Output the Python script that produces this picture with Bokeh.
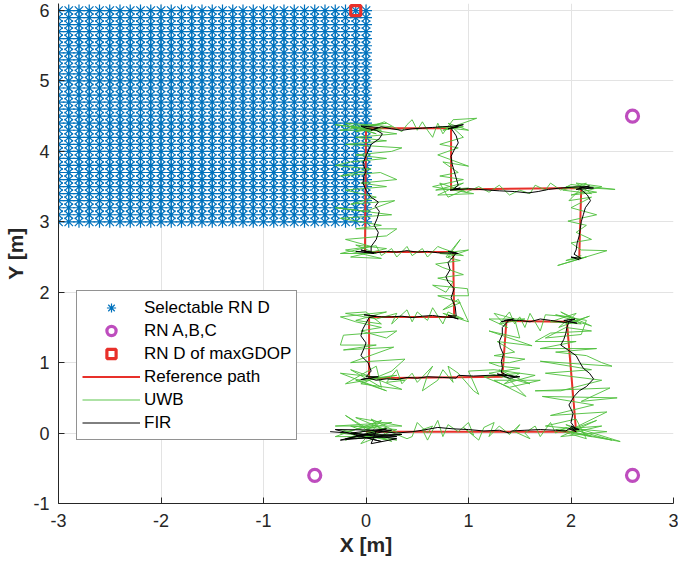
from bokeh.plotting import figure
from bokeh.models import Range1d, FixedTicker
from bokeh.embed import file_html
from bokeh.resources import INLINE

# ---------------- data ----------------
grid_cols = [-3.0, -2.9, -2.8, -2.7, -2.6, -2.5, -2.4, -2.3, -2.2, -2.1, -2.0,
             -1.9, -1.8, -1.7, -1.6, -1.5, -1.4, -1.3, -1.2, -1.1, -1.0,
             -0.9, -0.8, -0.7, -0.6, -0.5, -0.4, -0.3, -0.2, -0.1, 0.0]
grid_rows = [3.0, 3.1, 3.2, 3.3, 3.4, 3.5, 3.6, 3.7, 3.8, 3.9, 4.0,
             4.1, 4.2, 4.3, 4.4, 4.5, 4.6, 4.7, 4.8, 4.9, 5.0,
             5.1, 5.2, 5.3, 5.4, 5.5, 5.6, 5.7, 5.8, 5.9, 6.0]

anchor_x = [-0.5, 2.6, 2.6]
anchor_y = [-0.6, -0.6, 4.5]

maxgdop_x = [-0.1]
maxgdop_y = [6.0]

ref_x = [0.0, 2.05, 1.96, 1.37, 1.33, 0.03, 0.03, 0.86, 0.85, -0.01, 0.0, 0.83, 0.83, 2.10, 2.08]
ref_y = [0.02, 0.02, 1.58, 1.59, 0.80, 0.78, 1.65, 1.65, 2.57, 2.57, 4.33, 4.33, 3.46, 3.48, 2.47]

uwb_xy = [
    (-0.25, 0.05), (0.2, -0.1), (-0.2, 0.25), (0.1, -0.05), (-0.3, -0.05), (0.15, 0.18),
    (-0.05, -0.15), (0.3, 0.05), (-0.15, 0.1), (0.25, -0.12), (0.05, 0.2), (0.35, -0.02),
    (-0.1, -0.08), (0.2, 0.08), (-0.2, -0.1), (0.1, 0.12), (-0.25, 0.0), (0.3, -0.1),
    (0.0, 0.05), (0.25, 0.15), (-0.3, 0.1), (0.35, 0.1), (-0.1, 0.22), (0.4, -0.08),
    (0.45, -0.05), (0.5, 0.15), (0.6, 0.0), (0.65, 0.1), (0.55, 0.05), (0.6, -0.1),
    (0.7, 0.18), (0.75, -0.05), (0.8, 0.12), (0.9, 0.02), (1.0, 0.15), (1.05, -0.03),
    (0.95, 0.08), (1.1, -0.1), (1.15, 0.08), (1.25, 0.15), (1.2, -0.05), (1.3, 0.1),
    (1.4, -0.02), (1.5, 0.12), (1.45, 0.02), (1.6, -0.08), (1.55, 0.0), (1.65, 0.1),
    (1.7, -0.05), (1.8, 0.15), (1.85, 0.0), (1.95, 0.08),
    (2.4, -0.1), (1.9, 0.05), (2.2, -0.05), (1.95, 0.12), (2.48, -0.12), (2.0, 0.0),
    (2.3, 0.1), (1.85, 0.05), (2.15, -0.08), (2.05, 0.2), (1.75, 0.1), (2.35, 0.02),
    (1.9, -0.05), (2.25, 0.18), (2.0, 0.05),
    (2.35, 0.3), (1.8, 0.25), (2.22, 0.4), (1.72, 0.52), (2.45, 0.5), (2.1, 0.45),
    (2.38, 0.64), (1.65, 0.6), (1.9, 0.6), (2.3, 0.75), (1.75, 0.85), (2.2, 0.9),
    (1.7, 1.02), (2.4, 0.95), (2.3, 1.0), (2.15, 1.1), (1.85, 1.15), (2.25, 1.2),
    (1.7, 1.2), (2.05, 1.3), (1.65, 1.3), (1.8, 1.42), (2.2, 1.45), (1.95, 1.5),
    (1.75, 1.35), (2.1, 1.4),
    (2.15, 1.6), (1.85, 1.68), (2.2, 1.52), (1.9, 1.72), (2.1, 1.55), (1.8, 1.58),
    (2.05, 1.7), (1.95, 1.55), (2.18, 1.66), (1.88, 1.5), (2.0, 1.65),
    (1.75, 1.68), (1.7, 1.45), (1.6, 1.7), (1.55, 1.5), (1.5, 1.65), (1.45, 1.55),
    (1.4, 1.72), (1.3, 1.55), (1.55, 1.62), (1.2, 1.62), (1.38, 1.5), (1.25, 1.7),
    (1.45, 1.62),
    (1.5, 1.35), (1.2, 1.45), (1.62, 1.24), (1.28, 1.3), (1.45, 1.15), (1.25, 1.1),
    (1.55, 1.05), (1.4, 1.0), (1.2, 1.0), (1.3, 0.95), (1.5, 0.92),
    (1.2, 0.85), (1.6, 0.7), (1.3, 0.9), (1.56, 0.52), (1.25, 0.75), (1.7, 0.75),
    (1.4, 0.65), (1.15, 0.8), (1.5, 0.85), (1.35, 0.7), (1.65, 0.82), (1.25, 0.9),
    (1.0, 0.88), (1.1, 0.55), (1.05, 0.6), (0.9, 0.85), (0.8, 0.95), (0.85, 0.72),
    (0.75, 0.9), (0.7, 0.75), (0.55, 0.6), (0.6, 0.82), (0.65, 0.95), (0.5, 0.72),
    (0.45, 0.85), (0.35, 0.7), (0.3, 0.9), (0.2, 0.72), (0.38, 0.75),
    (-0.25, 0.85), (0.2, 0.6), (-0.1, 0.75), (0.3, 0.82), (-0.2, 0.7), (0.1, 0.95),
    (0.15, 0.65), (-0.15, 0.9), (0.05, 0.8), (0.35, 0.62), (-0.05, 0.7), (0.25, 0.88),
    (0.38, 1.05), (-0.15, 1.0), (0.27, 1.22), (-0.22, 1.18), (0.1, 1.25), (-0.25, 1.25),
    (-0.22, 1.39), (0.3, 1.45), (0.2, 1.35), (-0.05, 1.45), (0.15, 1.5), (-0.1, 1.58),
    (-0.25, 1.65), (0.2, 1.72), (-0.1, 1.6), (0.15, 1.55), (0.0, 1.72), (-0.2, 1.7),
    (0.1, 1.62),
    (0.3, 1.7), (0.25, 1.55), (0.4, 1.75), (0.45, 1.58), (0.5, 1.72), (0.6, 1.6),
    (0.65, 1.78), (0.75, 1.55), (0.8, 1.72), (0.95, 1.62), (0.75, 1.7), (1.0, 1.58),
    (0.9, 1.9), (0.75, 1.75), (0.92, 1.85), (0.7, 1.95), (1.0, 1.95), (0.99, 2.05),
    (0.65, 2.1), (0.78, 2.0), (0.85, 2.15), (0.7, 2.2), (0.95, 2.25), (0.75, 2.35),
    (0.68, 2.4), (0.92, 2.45), (0.78, 2.5), (0.92, 2.75), (0.8, 2.5), (1.0, 2.6),
    (0.72, 2.55), (0.95, 2.52), (0.75, 2.62),
    (0.7, 2.65), (0.6, 2.5), (0.55, 2.62), (0.45, 2.52), (0.4, 2.65), (0.3, 2.5),
    (0.25, 2.62), (0.15, 2.52), (0.1, 2.66),
    (-0.2, 2.6), (0.15, 2.48), (-0.15, 2.5), (0.2, 2.62), (-0.1, 2.67), (0.1, 2.55),
    (-0.25, 2.55), (0.05, 2.65),
    (-0.2, 2.75), (0.2, 2.8), (0.3, 2.9), (-0.1, 2.9), (0.15, 2.95), (-0.25, 3.05),
    (0.25, 3.1), (-0.3, 3.2), (0.0, 3.15), (0.28, 3.3), (-0.15, 3.25), (0.1, 3.35),
    (-0.2, 3.45), (0.2, 3.5), (-0.05, 3.55), (0.3, 3.6), (0.14, 3.7), (-0.25, 3.65),
    (0.05, 3.75), (-0.3, 3.8), (-0.15, 3.85), (0.2, 3.9), (-0.1, 3.95), (0.25, 4.0),
    (0.35, 4.05), (-0.2, 4.1), (0.2, 4.15), (-0.1, 4.2), (0.3, 4.25),
    (-0.3, 4.38), (0.15, 4.3), (-0.25, 4.3), (0.2, 4.4), (-0.15, 4.35), (0.1, 4.25),
    (-0.2, 4.4), (0.25, 4.35), (-0.1, 4.28), (0.18, 4.42),
    (0.35, 4.28), (0.4, 4.38), (0.45, 4.45), (0.5, 4.3), (0.55, 4.42), (0.6, 4.3),
    (0.65, 4.2), (0.7, 4.4), (0.75, 4.25), (0.85, 4.45), (1.08, 4.47), (0.75, 4.3),
    (0.95, 4.35), (0.7, 4.35), (1.0, 4.3), (0.8, 4.4),
    (0.95, 4.2), (0.72, 4.1), (0.9, 4.05), (0.7, 3.95), (1.0, 3.79), (0.75, 3.85),
    (0.9, 3.7), (0.72, 3.65), (0.95, 3.6),
    (0.65, 3.5), (1.05, 3.4), (0.7, 3.38), (0.95, 3.55), (0.68, 3.45), (1.0, 3.48),
    (0.8, 3.35), (0.72, 3.55), (0.98, 3.42),
    (1.1, 3.5), (1.2, 3.42), (1.3, 3.52), (1.4, 3.38), (1.5, 3.45), (1.6, 3.4),
    (1.65, 3.52), (1.75, 3.45), (1.8, 3.55), (1.9, 3.45), (2.0, 3.53),
    (2.43, 3.46), (1.95, 3.5), (2.25, 3.42), (2.0, 3.38), (2.3, 3.5), (2.05, 3.55),
    (2.2, 3.4), (1.92, 3.45), (2.15, 3.55),
    (1.98, 3.3), (2.2, 3.35), (2.0, 3.2), (2.25, 3.1), (1.97, 3.01), (2.15, 2.95),
    (2.05, 2.85), (2.2, 2.75), (2.0, 2.7), (2.1, 2.6), (2.35, 2.59), (1.87, 2.38),
    (2.15, 2.5), (1.95, 2.45), (2.1, 2.52),
]

fir_xy = [
    (-0.35, 0.02), (0.3, -0.05), (-0.2, -0.08), (0.25, 0.04), (-0.3, 0.05), (0.15, -0.12),
    (-0.1, -0.03), (0.35, -0.02), (-0.25, -0.1), (0.2, 0.06), (-0.15, 0.0), (0.3, -0.08),
    (0.05, -0.15), (0.1, 0.03), (0.3, 0.0),
    (0.45, 0.02), (0.55, 0.04), (0.7, 0.08), (0.85, 0.06), (1.0, 0.05), (1.15, 0.03),
    (1.3, 0.04), (1.4, 0.0), (1.42, 0.03), (1.55, 0.04), (1.7, 0.05), (1.85, 0.04),
    (1.95, 0.03), (2.0, 0.08), (2.05, 0.02), (1.98, 0.06), (2.08, 0.05), (2.0, 0.1),
    (2.05, 0.05), (2.0, 0.15), (2.02, 0.28), (1.98, 0.4), (2.03, 0.52), (2.08, 0.6),
    (2.15, 0.66), (2.22, 0.77), (2.18, 0.85), (2.12, 0.92), (2.08, 1.02), (2.05, 1.1),
    (1.97, 1.18), (1.9, 1.25), (1.93, 1.33), (1.95, 1.42), (1.96, 1.5), (1.98, 1.58),
    (2.06, 1.56), (1.93, 1.6), (2.04, 1.62), (1.95, 1.57),
    (1.8, 1.6), (1.7, 1.62), (1.6, 1.58), (1.5, 1.6), (1.42, 1.6), (1.35, 1.6),
    (1.44, 1.62), (1.32, 1.58), (1.4, 1.61),
    (1.33, 1.5), (1.33, 1.4), (1.3, 1.3), (1.31, 1.22), (1.34, 1.12), (1.32, 1.02),
    (1.33, 0.93), (1.32, 0.86), (1.38, 0.82), (1.45, 0.8), (1.28, 0.84), (1.4, 0.78),
    (1.5, 0.8), (1.35, 0.82),
    (1.2, 0.82), (1.05, 0.81), (0.9, 0.82), (0.88, 0.78), (0.75, 0.79), (0.6, 0.8),
    (0.5, 0.78), (0.4, 0.79), (0.3, 0.76), (0.2, 0.77), (0.1, 0.75), (0.03, 0.78),
    (-0.05, 0.76), (0.12, 0.8), (0.0, 0.8),
    (0.05, 0.88), (0.02, 1.0), (-0.05, 1.1), (-0.02, 1.2), (0.0, 1.28), (-0.05, 1.38),
    (-0.03, 1.48), (0.0, 1.56), (0.03, 1.64), (0.1, 1.66), (-0.02, 1.68), (0.15, 1.65),
    (0.25, 1.65), (0.35, 1.66), (0.45, 1.64), (0.55, 1.66), (0.65, 1.67), (0.75, 1.65),
    (0.85, 1.64), (0.9, 1.62), (0.8, 1.67), (0.88, 1.66),
    (0.87, 1.8), (0.83, 1.92), (0.86, 2.05), (0.8, 2.15), (0.78, 2.22), (0.82, 2.32),
    (0.8, 2.42), (0.85, 2.5), (0.88, 2.56), (0.8, 2.58), (0.9, 2.55),
    (0.7, 2.56), (0.6, 2.58), (0.5, 2.57), (0.4, 2.59), (0.3, 2.57), (0.2, 2.58),
    (0.1, 2.56), (0.0, 2.57), (-0.1, 2.58), (0.08, 2.55), (-0.05, 2.6), (0.05, 2.57),
    (0.05, 2.65), (0.1, 2.75), (0.12, 2.85), (0.08, 2.95), (0.11, 3.05), (0.13, 3.15),
    (0.09, 3.22), (0.12, 3.28), (0.05, 3.35), (0.0, 3.45), (-0.03, 3.55), (-0.02, 3.65),
    (0.0, 3.72), (-0.03, 3.82), (-0.01, 3.9), (0.02, 4.0), (0.05, 4.1), (0.13, 4.18),
    (0.16, 4.25), (0.1, 4.3), (0.0, 4.33), (-0.05, 4.36), (0.12, 4.34), (0.05, 4.3), (0.15, 4.35),
    (0.25, 4.32), (0.35, 4.3), (0.45, 4.32), (0.55, 4.33), (0.65, 4.34), (0.75, 4.35),
    (0.85, 4.36), (0.95, 4.38), (0.8, 4.32), (0.9, 4.35), (0.83, 4.33),
    (0.88, 4.22), (0.9, 4.12), (0.86, 4.02), (0.83, 3.93), (0.84, 3.82), (0.86, 3.72),
    (0.88, 3.62), (0.9, 3.52), (0.85, 3.46), (0.92, 3.48), (0.82, 3.45),
    (1.0, 3.47), (1.1, 3.46), (1.2, 3.45), (1.3, 3.44), (1.45, 3.43), (1.58, 3.41),
    (1.68, 3.43), (1.78, 3.46), (1.9, 3.48), (2.0, 3.49), (2.1, 3.5), (2.22, 3.48),
    (2.05, 3.46), (2.18, 3.51), (2.08, 3.48),
    (2.16, 3.38), (2.19, 3.3), (2.14, 3.2), (2.12, 3.1), (2.1, 3.0), (2.09, 2.9),
    (2.08, 2.8), (2.06, 2.7), (2.05, 2.6), (2.03, 2.54), (2.1, 2.48), (2.0, 2.5), (2.08, 2.46),
]

x_ticks = [-3, -2, -1, 0, 1, 2, 3]
y_ticks = [-1, 0, 1, 2, 3, 4, 5, 6]

# ---------------- derived ----------------
sel_x = [cx for cy in grid_rows for cx in grid_cols]
sel_y = [cy for cy in grid_rows for cx in grid_cols]
uwb_x = [p[0] for p in uwb_xy]
uwb_y = [p[1] for p in uwb_xy]
fir_x = [p[0] for p in fir_xy]
fir_y = [p[1] for p in fir_xy]

BLUE = "#0072BD"
MAG = "#BE4DBE"
RED = "#E8302A"
GREEN = "#4DBF3A"
AX = "#262626"
FONT = "Liberation Sans"

p = figure(width=678, height=561, output_backend="svg", toolbar_location=None,
           x_range=Range1d(-3, 3), y_range=Range1d(-1, 6.1),
           min_border_left=58, min_border_right=5, min_border_top=3, min_border_bottom=58)
p.outline_line_color = None
p.background_fill_color = "white"
p.border_fill_color = "white"

p.scatter(sel_x, sel_y, marker="asterisk", size=12, line_color=BLUE, line_width=1.2,
          legend_label="Selectable RN D")
p.scatter(anchor_x, anchor_y, marker="circle", size=12, fill_color=None,
          line_color=MAG, line_width=3.2, legend_label="RN A,B,C")
p.scatter(maxgdop_x, maxgdop_y, marker="square", size=10, fill_color=None,
          line_color=RED, line_width=3.2, legend_label="RN D of maxGDOP")
p.line(ref_x, ref_y, line_color=RED, line_width=2, legend_label="Reference path")
p.line(uwb_x, uwb_y, line_color=GREEN, line_width=1, line_alpha=0.9, legend_label="UWB")
p.line(fir_x, fir_y, line_color="black", line_width=1, legend_label="FIR")

for ax, ticks in ((p.xaxis, x_ticks), (p.yaxis, y_ticks)):
    ax.ticker = FixedTicker(ticks=ticks)
    ax.minor_tick_line_color = None
    ax.major_tick_in = 6
    ax.major_tick_out = 0
    ax.axis_line_color = AX
    ax.major_tick_line_color = AX
    ax.major_label_text_color = AX
    ax.major_label_text_font = FONT
    ax.major_label_text_font_size = "18px"
    ax.axis_label_text_font = FONT
    ax.axis_label_text_font_size = "21px"
    ax.axis_label_text_font_style = "bold"
    ax.axis_label_text_color = AX
    ax.major_label_overrides = {t: str(t) for t in ticks}

p.xaxis.axis_label = "X [m]"
p.yaxis.axis_label = "Y [m]"
p.xaxis.major_label_standoff = 10
p.yaxis.major_label_standoff = 9
p.xaxis.axis_label_standoff = 3
p.yaxis.axis_label_standoff = 3

p.xgrid.ticker = FixedTicker(ticks=x_ticks)
p.ygrid.ticker = FixedTicker(ticks=y_ticks)
p.grid.grid_line_color = "#e3e3e3"
p.grid.grid_line_width = 1

lg = p.legend[0]
lg.location = (18, 63)
lg.border_line_color = AX
lg.border_line_width = 1
lg.background_fill_alpha = 1
lg.label_text_font = FONT
lg.label_text_font_size = "17px"
lg.label_text_color = "black"
lg.glyph_width = 58
lg.glyph_height = 23
lg.label_height = 23
lg.label_standoff = 4
lg.spacing = 0
lg.padding = 5
lg.margin = 0

open("out.html", "w").write(file_html(p, INLINE))
